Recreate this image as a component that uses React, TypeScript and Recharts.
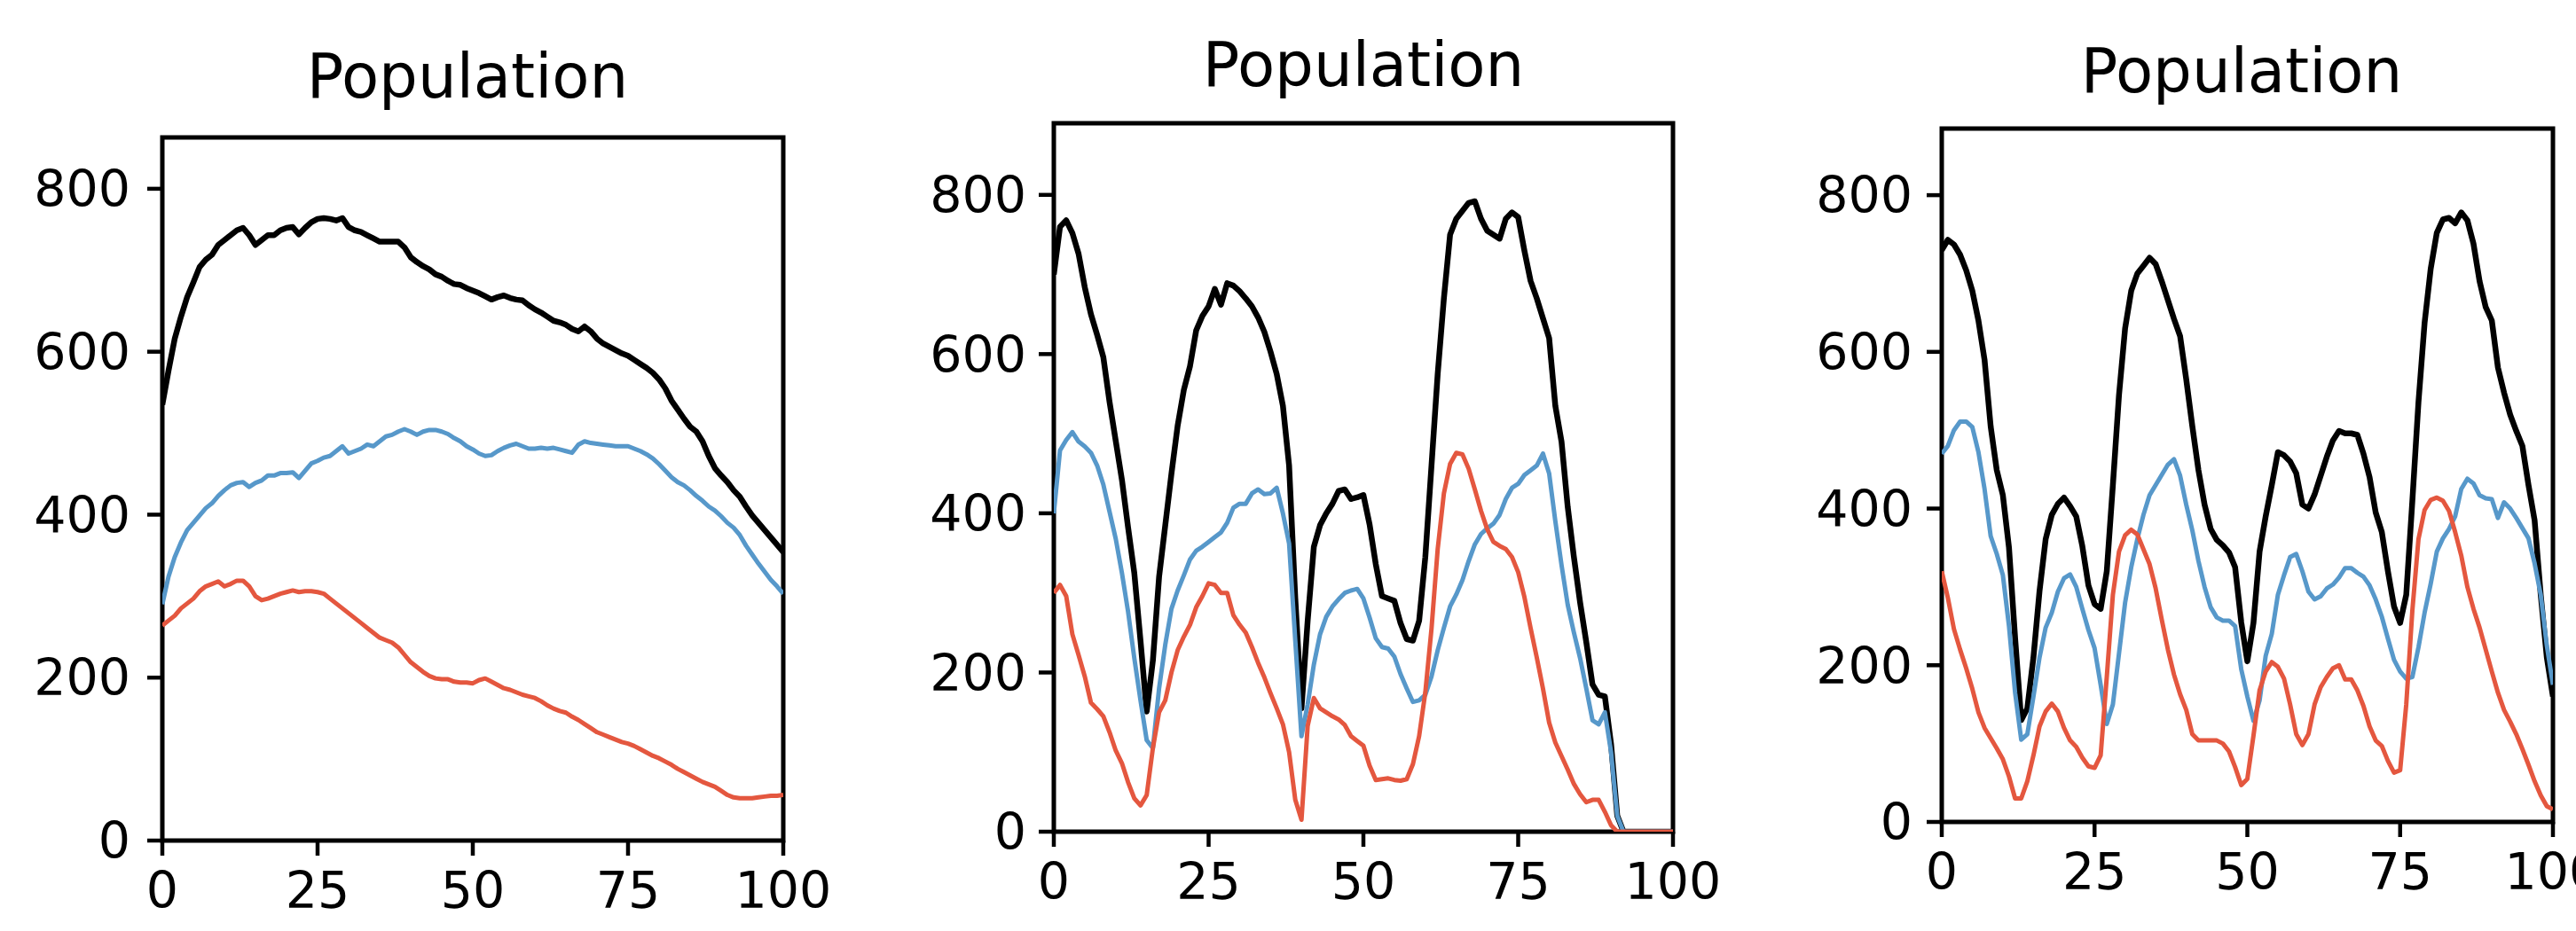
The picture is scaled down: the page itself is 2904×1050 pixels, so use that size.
import React from 'react';
import { LineChart, Line, XAxis, YAxis, ReferenceArea } from 'recharts';

// time steps 0..100, shared by all three panels
const steps = Array.from({ length: 101 }, (_, i) => i);
const xTicks = [0, 25, 50, 75, 100];
const yTicks = [0, 200, 400, 600, 800];
const titleText = 'Population';

// panel 1
const p1Total = [
  535, 577, 616, 643, 667, 685, 704, 713, 719, 731,
  737, 743, 749, 752, 743, 731, 737, 743, 743, 749,
  752, 753, 744, 752, 759, 763, 764, 763, 761, 764,
  753, 749, 747, 743, 739, 735, 735, 735, 735, 728,
  716, 710, 705, 701, 695, 692, 687, 683, 682, 678,
  675, 672, 668, 664, 667, 669, 666, 664, 663, 657,
  652, 648, 643, 638, 636, 633, 628, 625, 631, 625,
  616, 610, 606, 602, 598, 595, 590, 585, 580, 574,
  566, 555, 540, 529, 518, 508, 502, 490, 472, 457,
  448, 440, 430, 422, 410, 399, 390, 381, 372, 363,
  354,
];
const p1Prey = [
  290, 324, 348, 366, 381, 390, 399, 408, 414, 423,
  430, 436, 439, 440, 434, 439, 442, 448, 448, 451,
  451, 452, 445, 454, 463, 466, 470, 472, 478, 484,
  475, 478, 481, 486, 484, 490, 496, 498, 502, 505,
  502, 498, 502, 504, 504, 502, 499, 494, 490, 484,
  480, 475, 472, 473, 478, 482, 485, 487, 484, 481,
  481, 482, 481, 482, 480, 478, 476, 486, 490, 488,
  487, 486, 485, 484, 484, 484, 481, 478, 474, 469,
  462, 454, 446, 440, 436, 430, 423, 417, 410, 405,
  398, 390, 384, 375, 362, 351, 340, 330, 320, 312,
  303,
];
const p1Predator = [
  264, 270, 276, 285, 291, 297, 306, 312, 315, 318,
  312, 315, 319, 319, 312, 300, 295, 297, 300, 303,
  305, 307, 305, 306, 306, 305, 303, 297, 291, 285,
  279, 273, 267, 261, 255, 249, 246, 243, 237, 228,
  219, 213, 207, 202, 199, 198, 198, 195, 194, 194,
  193, 197, 199, 195, 191, 187, 185, 182, 179, 177,
  175, 171, 166, 162, 159, 157, 152, 148, 143, 138,
  133, 130, 127, 124, 121, 119, 116, 112, 108, 104,
  101, 97, 93, 88, 84, 80, 76, 72, 69, 66,
  61, 56, 53, 52, 52, 52, 53, 54, 55, 55,
  56,
];

// panel 2
const p2Total = [
  700, 760, 768, 752, 726, 684, 650, 624, 596, 540,
  491, 442, 382, 325, 240, 151, 215, 320, 385, 450,
  510, 555, 585, 630, 648, 660, 682, 662, 689, 686,
  679, 670, 660, 646, 628, 603, 575, 535, 460, 293,
  155, 265, 358, 385, 400, 412, 428, 430, 418, 420,
  423, 386, 336, 296, 293, 290, 262, 242, 240, 265,
  345, 460, 575, 670, 750, 770, 780, 790, 792, 770,
  755, 750, 745, 770, 778, 772, 730, 692, 670, 645,
  620, 535, 490, 408, 345, 288, 238, 185, 172, 170,
  110, 20, 0, 0, 0, 0, 0, 0, 0, 0,
  0,
];
const p2Prey = [
  400, 479, 492, 502, 490, 484, 476, 460, 436, 402,
  368, 325, 276, 218, 165, 115, 105, 180, 235, 280,
  303, 322, 342, 353, 358, 364, 370, 376, 388, 407,
  412, 412, 425, 430, 424, 425, 432, 400, 362, 240,
  120, 160, 210, 248, 270, 283, 292, 300, 303, 305,
  293, 269, 243, 232, 230, 220, 198, 180, 163, 165,
  172, 195, 228, 256, 283, 298, 316, 340, 361, 374,
  381, 387, 398, 418, 432, 437, 448, 454, 460, 475,
  450, 390, 335, 285, 250, 218, 180, 140, 135, 150,
  100, 20, 0, 0, 0, 0, 0, 0, 0, 0,
  0,
];
const p2Predator = [
  300, 310, 296, 248, 222, 195, 162, 154, 145, 125,
  102, 86, 62, 42, 33, 46, 105, 150, 165, 200,
  228, 245, 260, 282, 296, 312, 310, 300, 300, 272,
  260, 250, 232, 212, 194, 174, 155, 135, 100, 40,
  15, 133, 168, 155, 150, 145, 141, 134, 120, 114,
  108, 83, 65, 66, 67, 65, 64, 66, 85, 120,
  175, 255, 355, 425, 462, 476, 474, 456, 430, 403,
  380, 364, 359, 355, 345, 326, 295, 256, 219, 180,
  137, 112, 95, 78, 60, 47, 37, 40, 40, 25,
  8, 0, 0, 0, 0, 0, 0, 0, 0, 0,
  0,
];

// panel 3
const p3Total = [
  730, 743, 737, 724, 704, 678, 640, 590, 505, 449,
  417, 350, 235, 130, 145, 210, 295, 361, 392, 406,
  414, 403, 390, 352, 302, 278, 272, 320, 430, 545,
  630, 678, 700, 710, 720, 712, 690, 666, 642, 620,
  565, 505, 449, 405, 374, 360, 353, 344, 325, 255,
  205, 254, 345, 390, 430, 472, 468, 460, 445, 405,
  400, 418, 442, 466, 487, 499, 496, 496, 494, 470,
  440, 395, 370, 320, 275, 254, 290, 410, 536, 637,
  706, 752, 769, 771, 764, 778, 768, 738, 690, 657,
  640, 580, 548, 520, 499, 480, 430, 385, 290, 210,
  160,
];
const p3Prey = [
  470, 480, 500, 511, 511, 504, 472, 425, 365, 342,
  315, 250, 165, 105, 112, 160, 210, 248, 267, 294,
  311, 316, 300, 272, 245, 222, 175, 125, 150, 215,
  280, 325, 361, 392, 417, 430, 443, 456, 463, 442,
  405, 372, 333, 300, 274, 261, 257, 257, 250, 195,
  160, 129, 155, 212, 240, 290, 315, 338, 342, 320,
  294, 284, 288, 298, 303, 312, 324, 324, 318, 313,
  302, 284, 262, 234, 207, 192, 183, 185, 223, 267,
  304, 345, 362, 374, 390, 425, 438, 432, 417, 413,
  412, 388, 408, 400, 388, 375, 362, 330, 290, 225,
  175,
];
const p3Predator = [
  320, 286, 246, 220, 196, 170, 140, 120, 107, 94,
  80, 58, 30, 30, 52, 85, 122, 141, 151, 141,
  120, 104, 96, 82, 71, 69, 85, 185, 290, 345,
  366, 373, 367, 348, 329, 298, 258, 220, 188, 163,
  143, 112, 104, 104, 104, 104, 100, 90, 70, 47,
  55, 110, 168, 192, 204, 198, 183, 150, 112, 98,
  112, 150, 172, 185, 196, 200, 182, 182, 168, 148,
  122, 104, 97, 78, 63, 66, 150, 270, 361, 398,
  411, 414, 410, 397, 370, 340, 300, 272, 248, 220,
  192, 165, 143, 128, 112, 93, 73, 52, 34, 20,
  16,
];

const FONT = 'DejaVu Sans, Verdana, sans-serif';
const H = 1050;
const X_AXIS_H = 80;
const Y_AXIS_W = 130;

// layout of each panel on the page (px)
const panels = [
  { total: p1Total, prey: p1Prey, predator: p1Predator, left: 0, width: 940, plotLeft: 183, plotRight: 883, top: 155, bottom: 948, yMax: 863, yGap: 36, titleX: 527, titleY: 110 },
  { total: p2Total, prey: p2Prey, predator: p2Predator, left: 1000, width: 943, plotLeft: 1188, plotRight: 1886, top: 139, bottom: 938, yMax: 890, yGap: 31, titleX: 1537, titleY: 97 },
  { total: p3Total, prey: p3Prey, predator: p3Predator, left: 2000, width: 904, plotLeft: 2189, plotRight: 2878, top: 145, bottom: 927, yMax: 885, yGap: 33, titleX: 2527, titleY: 104 },
];

const tickStyle = { fill: '#000', fontSize: 57, fontFamily: FONT };
const tickLineStyle = { stroke: '#000', strokeWidth: 4.5 };

function Panel({ cfg }: { cfg: (typeof panels)[number] }) {
  const data = steps.map((t, i) => ({
    t,
    total: cfg.total[i],
    prey: cfg.prey[i],
    predator: cfg.predator[i],
  }));
  const margin = {
    top: cfg.top,
    right: cfg.left + cfg.width - cfg.plotRight,
    bottom: H - cfg.bottom - X_AXIS_H,
    left: cfg.plotLeft - cfg.left - Y_AXIS_W,
  };
  return (
    <div style={{ position: 'absolute', left: cfg.left, top: 0 }}>
      <LineChart width={cfg.width} height={H} data={data} margin={margin}>
        <XAxis
          dataKey="t"
          type="number"
          domain={[0, 100]}
          ticks={xTicks}
          interval={0}
          height={X_AXIS_H}
          axisLine={false}
          tickLine={tickLineStyle}
          tickSize={17}
          tickMargin={19}
          tick={tickStyle}
          allowDataOverflow
        />
        <YAxis
          type="number"
          domain={[0, cfg.yMax]}
          ticks={yTicks}
          interval={0}
          width={Y_AXIS_W}
          axisLine={false}
          tickLine={tickLineStyle}
          tickSize={17}
          tickMargin={cfg.yGap - 17}
          tick={tickStyle}
          allowDataOverflow
        />
        <ReferenceArea
          x1={0}
          x2={100}
          y1={0}
          y2={cfg.yMax}
          fill="none"
          stroke="#000"
          strokeWidth={5}
          ifOverflow="visible"
        />
        <Line type="linear" dataKey="total" stroke="#000000" strokeWidth={6.5} strokeLinejoin="round" dot={false} isAnimationActive={false} />
        <Line type="linear" dataKey="prey" stroke="#5798ca" strokeWidth={5} strokeLinejoin="round" dot={false} isAnimationActive={false} />
        <Line type="linear" dataKey="predator" stroke="#e4573f" strokeWidth={5} strokeLinejoin="round" dot={false} isAnimationActive={false} />
      </LineChart>
    </div>
  );
}

export default function App() {
  return (
    <div style={{ position: 'relative', width: 2904, height: H, overflow: 'hidden', background: '#fff' }}>
      <style>{'body{margin:0;background:#fff}'}</style>
      {panels.map((cfg, i) => (
        <Panel key={i} cfg={cfg} />
      ))}
      <svg width={2904} height={H} style={{ position: 'absolute', left: 0, top: 0, pointerEvents: 'none' }}>
        {panels.map((cfg, i) => (
          <text key={i} x={cfg.titleX} y={cfg.titleY} textAnchor="middle" fontSize={69} fontFamily={FONT} fill="#000">
            {titleText}
          </text>
        ))}
      </svg>
    </div>
  );
}
